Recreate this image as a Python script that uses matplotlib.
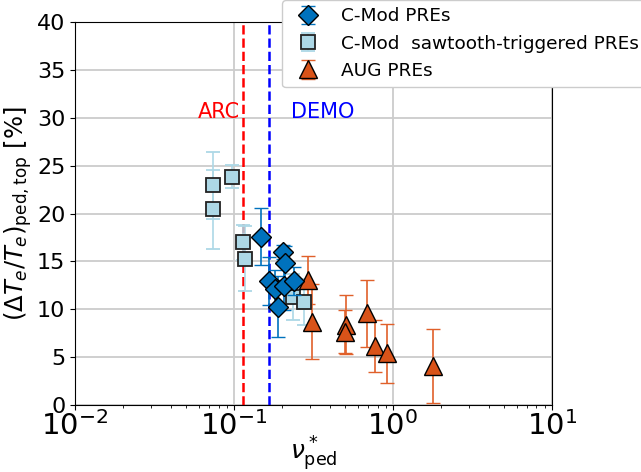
import numpy as np
import matplotlib
matplotlib.use('Agg')
import matplotlib.pyplot as plt

# C-Mod PREs
cmod_nu = [0.149, 0.204, 0.209, 0.167, 0.181, 0.207, 0.238, 0.190]
cmod_dT = [17.6, 16.0, 14.86, 12.95, 12.08, 12.46, 12.95, 10.27]
cmod_err = [3.0, 0.7, 1.8, 2.5, 2.0, 2.5, 1.5, 3.2]

# C-Mod sawtooth-triggered PREs
saw_nu = [0.0741, 0.0741, 0.0967, 0.1146, 0.1165, 0.236, 0.275]
saw_dT = [22.95, 20.45, 23.84, 17.0, 15.3, 11.3, 10.8]
saw_err = [3.5, 4.15, 1.2, 1.8, 3.4, 2.4, 2.4]

# AUG PREs
aug_nu = [0.293, 0.308, 0.506, 0.499, 0.689, 0.771, 0.912, 1.79]
aug_dT = [13.05, 8.7, 8.4, 7.65, 9.58, 6.16, 5.4, 4.07]
aug_err = [2.5, 3.9, 3.1, 2.25, 3.5, 2.7, 3.1, 3.85]

nu_arc = 0.1135
nu_demo = 0.165

fig = plt.figure(figsize=(6.41, 4.72), dpi=100)
ax = fig.add_axes([0.117, 0.142, 0.744, 0.811])

ax.errorbar(cmod_nu, cmod_dT, yerr=cmod_err, fmt='D', color='#0072BD',
            mfc='#0072BD', mec='black', ms=10, capsize=5, elinewidth=1.2,
            label='C-Mod PREs', zorder=4)
ax.errorbar(saw_nu, saw_dT, yerr=saw_err, fmt='s', color='#ADD8E6',
            mfc='#ADD8E6', mec='#222222', mew=1.3, ms=10.5, capsize=5, elinewidth=1.2,
            label='C-Mod  sawtooth-triggered PREs', zorder=3)
ax.errorbar(aug_nu, aug_dT, yerr=aug_err, fmt='^', color='#E0602A',
            mfc='#D95319', mec='black', ms=12.5, capsize=5, elinewidth=1.2,
            label='AUG PREs', zorder=3)

ax.axvline(nu_arc, color='red', ls='--', lw=1.8, zorder=2)
ax.axvline(nu_demo, color='blue', ls='--', lw=1.8, zorder=2)
ax.text(0.059, 30, 'ARC', color='red', fontsize=15)
ax.text(0.228, 30, 'DEMO', color='blue', fontsize=15)

ax.set_xscale('log')
ax.set_xlim(1e-2, 1e1)
ax.set_ylim(0, 40)
ax.set_yticks(np.arange(0, 41, 5))
ax.grid(True, which='major', color='#cccccc', lw=1.3)
ax.set_axisbelow(True)
ax.tick_params(axis='y', labelsize=16)
ax.tick_params(axis='x', labelsize=21, pad=1)
ax.set_xlabel(r'$\nu^*_{\rm ped}$', fontsize=18, labelpad=-5)
ax.set_ylabel(r'$(\Delta T_e/T_e)_{\rm ped,top}$ [%]', fontsize=17.5, labelpad=2)

fig.legend(loc='upper left', bbox_to_anchor=(0.44, 1.0), fontsize=13.3,
           framealpha=1, handletextpad=0.8, borderaxespad=0)

fig.savefig('out.png', dpi=100)
